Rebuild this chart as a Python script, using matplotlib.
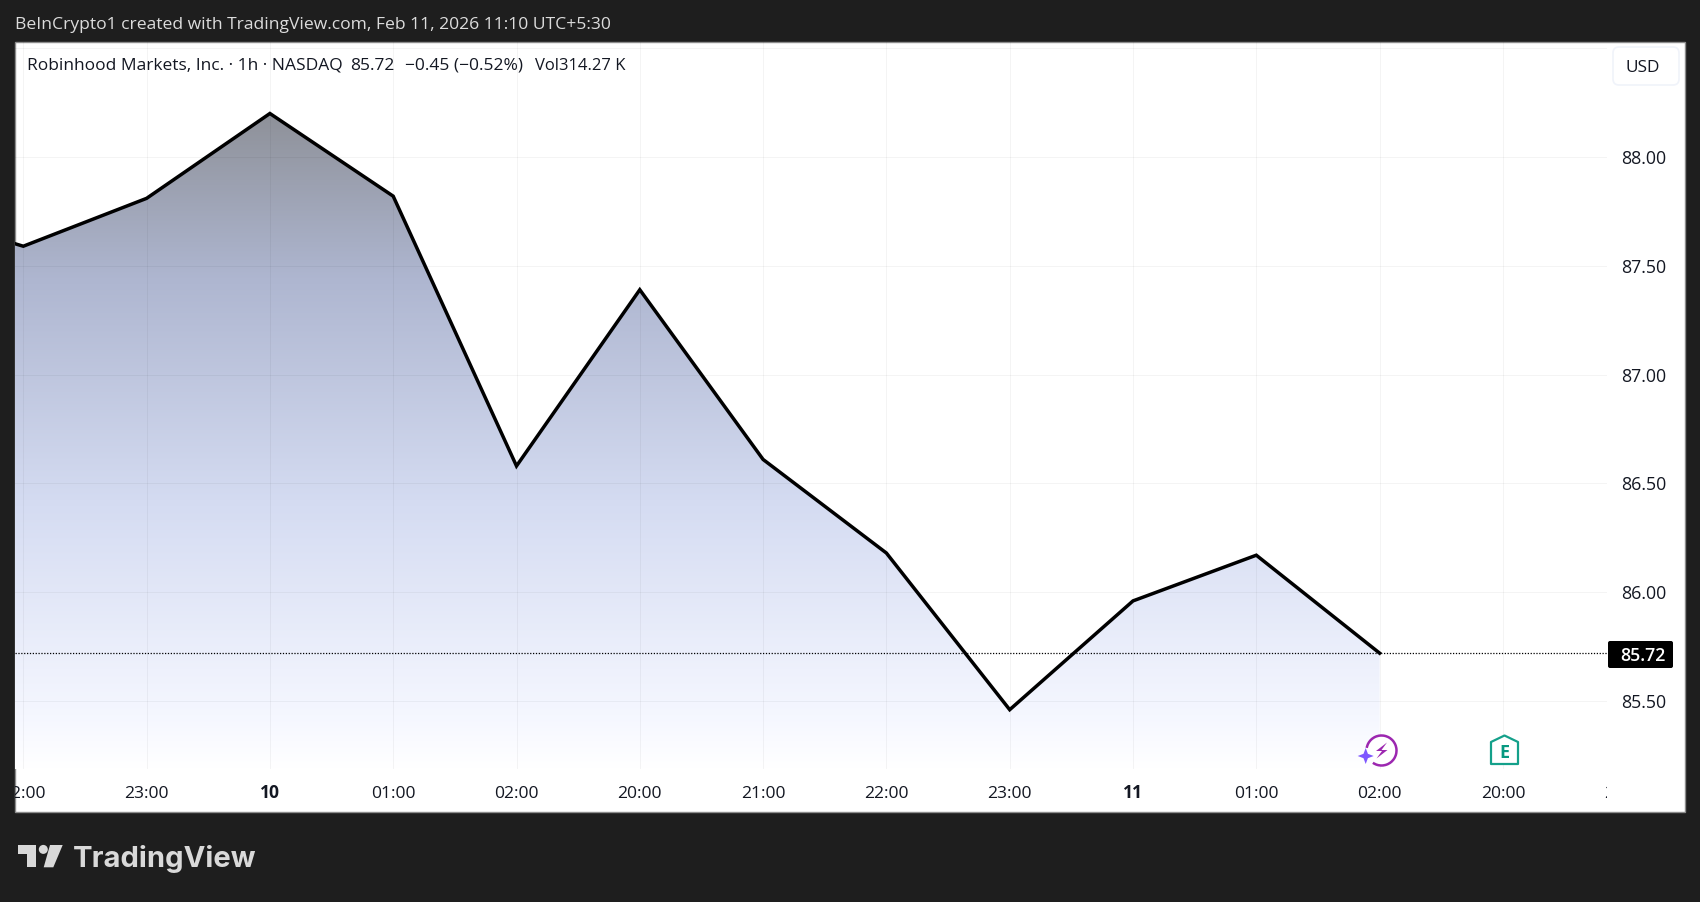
import matplotlib
matplotlib.use("Agg")
import matplotlib.pyplot as plt
import numpy as np
from matplotlib.colors import LinearSegmentedColormap
from matplotlib.patches import Arc, Circle, FancyBboxPatch, Polygon, Rectangle
from matplotlib.transforms import Bbox, blended_transform_factory

WIDTH, HEIGHT = 1700, 902

# Chart data
time_labels = ["22:00", "23:00", "10", "01:00", "02:00", "20:00", "21:00", "22:00", "23:00", "11", "01:00", "02:00", "20:00", "21:00"]
bold_labels = ["10", "11"]
closes = [87.59, 87.81, 88.20, 87.82, 86.58, 87.39, 86.61, 86.18, 85.46, 85.96, 86.17, 85.72]
previous_close = 87.76
price_ticks = [85.5, 86.0, 86.5, 87.0, 87.5, 88.0]
hidden_price_tick = 88.5
last_price = 85.72

header = "BeInCrypto1 created with TradingView.com, Feb 11, 2026 11:10 UTC+5:30"
legend_parts = ["Robinhood Markets, Inc. · 1h · NASDAQ", "85.72", "−0.45 (−0.52%)", "Vol314.27 K"]

FONT = "Open Sans"
DARK = "#1e1e1e"
TEXT = "#131722"

fig = plt.figure(figsize=(WIDTH / 100, HEIGHT / 100), dpi=100, facecolor=DARK)


def px_axes(left, top, right, bottom):
    return fig.add_axes([left / WIDTH, 1 - bottom / HEIGHT, (right - left) / WIDTH, (bottom - top) / HEIGHT])


# Frame behind the pane, in pixel coordinates
bg = px_axes(0, 0, WIDTH, HEIGHT)
bg.set_xlim(0, WIDTH)
bg.set_ylim(HEIGHT, 0)
bg.axis("off")
bg.set_zorder(1)
bg.add_patch(Rectangle((15, 41.5), 1670, 770, fc="white", ec="#8c8c8c", lw=1))

# Price pane
ax = px_axes(15, 42, 1607, 769)
ax.set_zorder(2)
ax.patch.set_alpha(0)
for spine in ax.spines.values():
    spine.set_visible(False)

bar_px = 123.3
x0_px = 23.3
pane_xlim = ((15 - x0_px) / bar_px, (1607 - x0_px) / bar_px)
pane_ylim = (85.5 - (769 - 701) / 217.6, 85.5 + (701 - 42) / 217.6)
ax.set_xlim(pane_xlim)
ax.set_ylim(pane_ylim)
ax.tick_params(left=False, bottom=False, labelleft=False, labelbottom=False)

xs = np.arange(len(closes))
ax.set_xticks(np.arange(len(time_labels)))
ax.set_yticks(price_ticks + [hidden_price_tick])
ax.grid(True, color="black", alpha=0.045, lw=0.72)
ax.set_axisbelow(False)

# Area gradient clipped to the region under the line
line_x = np.r_[-1, xs]
line_y = np.r_[previous_close, closes]
floor = pane_ylim[0]
cmap = LinearSegmentedColormap.from_list(
    "area",
    [(0, "#ffffff"), (0.08, "#f5f7ff"), (0.4, "#d5dcf2"), (0.75, "#aeb6d0"), (1, "#8e9199")],
)
gradient = np.linspace(1, 0, 256).reshape(-1, 1)
image = ax.imshow(
    gradient,
    extent=(pane_xlim[0], xs[-1], floor, max(closes)),
    aspect="auto",
    cmap=cmap,
    zorder=1,
)
ax.set_xlim(pane_xlim)
ax.set_ylim(pane_ylim)
clip = Polygon(
    np.column_stack([np.r_[line_x, xs[-1], -1], np.r_[line_y, floor, floor]]),
    transform=ax.transData,
    fc="none",
    ec="none",
)
ax.add_patch(clip)
image.set_clip_path(clip)

ax.axhline(last_price, color="black", lw=0.9, ls=(0, (1, 1.3)), zorder=2.6)
ax.plot(line_x, line_y, color="black", lw=2.5, solid_joinstyle="miter", zorder=3)

# Overlay for labels and icons, in pixel coordinates
over = px_axes(0, 0, WIDTH, HEIGHT)
over.set_xlim(0, WIDTH)
over.set_ylim(HEIGHT, 0)
over.axis("off")
over.set_zorder(3)

# Time axis labels, cut off at the pane edges
time_trans = blended_transform_factory(ax.transData, over.transData)
for i, label in enumerate(time_labels):
    t = over.text(
        i,
        797.7,
        label,
        transform=time_trans,
        ha="center",
        va="baseline",
        fontsize=12.6,
        family=FONT,
        color=TEXT,
        weight="bold" if label in bold_labels else "normal",
    )
    t.set_clip_box(Bbox([[15, 0], [1607, HEIGHT]]))
    t.set_clip_on(True)

# Price axis labels
for price in price_ticks:
    ax.annotate(
        f"{price:.2f}",
        (1, price),
        xycoords=("axes fraction", "data"),
        xytext=(14, -7),
        textcoords="offset pixels",
        ha="left",
        va="baseline",
        fontsize=12.8,
        family=FONT,
        color=TEXT,
        annotation_clip=False,
    )

# Last price tag
over.add_patch(FancyBboxPatch((1608, 641), 65, 27, boxstyle="round,pad=0,rounding_size=2", fc="black", ec="none"))
over.text(1643, 660.7, f"{last_price:.2f}", color="white", fontsize=12.8, weight="semibold", family=FONT, ha="center", va="baseline")

# Currency button
over.add_patch(FancyBboxPatch((1613, 47), 66, 38, boxstyle="round,pad=0,rounding_size=6", fc="white", ec="#f0f3fa", lw=1.2))
over.text(1643, 71.5, "USD", color=TEXT, fontsize=12.4, family=FONT, ha="center", va="baseline")

# Header and legend
over.text(15, 29, header, color="#dcdcdc", fontsize=12.6, family=FONT, va="baseline")
legend_x = [27, 350, 405, 535]
legend_sizes = [12.5, 12.5, 12.5, 12]
for x, part, size in zip(legend_x, legend_parts, legend_sizes):
    over.text(x, 70, part, color=TEXT, fontsize=size, family=FONT, va="baseline")

# Session marker
over.add_patch(Circle((1381.5, 750.5), 14, fc="white", ec="none"))
over.add_patch(Arc((1381.5, 750.5), 30, 30, theta1=-170, theta2=125, color="#9c27b0", lw=1.8))
over.add_patch(Polygon(
    [(1387, 742.5), (1376, 751), (1382, 751), (1376.5, 758.5), (1387.5, 750), (1381.5, 750)],
    fc="#9c27b0",
    ec="none",
))
star_x, star_y, outer, inner = 1365.7, 756, 8, 2.2
over.add_patch(Polygon(
    [(star_x, star_y - outer), (star_x + inner, star_y - inner), (star_x + outer, star_y),
     (star_x + inner, star_y + inner), (star_x, star_y + outer), (star_x - inner, star_y + inner),
     (star_x - outer, star_y), (star_x - inner, star_y - inner)],
    fc="#7e57ff",
    ec="none",
))

# Earnings marker
over.add_patch(Polygon(
    [(1491, 742), (1504.5, 735.5), (1518, 742), (1518, 764), (1491, 764)],
    closed=True,
    fc="white",
    ec="#14a08a",
    lw=1.6,
    joinstyle="round",
))
over.text(1504.5, 758.2, "E", color="#089981", fontsize=13, weight="bold", family=FONT, ha="center", va="baseline")

# TradingView logo
logo = "#d9d9d9"
over.add_patch(Polygon([(18, 845), (36, 845), (36, 867.3), (27.3, 867.3), (27.3, 854), (18, 854)], fc=logo, ec="none"))
over.add_patch(Circle((43.3, 849.4), 4.5, fc=logo, ec="none"))
over.add_patch(Polygon([(50, 845), (62.7, 845), (53.3, 867.3), (43.7, 867.3)], fc=logo, ec="none"))
over.text(73, 866.7, "TradingView", color=logo, fontsize=21, weight="bold", family="Inter", va="baseline")

fig.savefig("out.png", dpi=100, facecolor=DARK)
